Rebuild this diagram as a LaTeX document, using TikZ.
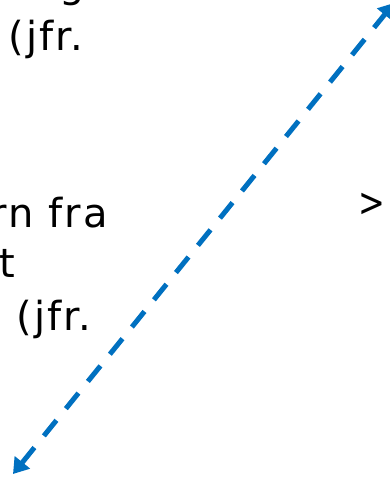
\documentclass[tikz,border=0pt]{standalone}
\usepackage{fontspec}
\setmainfont[LetterSpace=5]{DejaVu Sans}
\usetikzlibrary{arrows.meta}
\definecolor{linkblue}{HTML}{0070C0}

\begin{document}
\begin{tikzpicture}[x=1pt, y=-1pt, >={Triangle[length=15pt, width=19pt]},
  frag/.style={anchor=base west, inner sep=0pt, font=\fontsize{40}{48}\selectfont, text=black}]

% Frame (slide cut-out)
\useasboundingbox (0,0) rectangle (389,478);

% Text fragments, left column
\node[frag] (gtail) at (59,-2.3) {g};
\node[frag] (jfrA) at (8.5,51) {(jfr.};
\node[frag] (fra) at (-9.5,227) {rn fra};
\node[frag] (tee) at (-1,277) {t};
\node[frag] (jfrB) at (16.5,330) {(jfr.};

% Text fragment, right column
\node[frag] (gt) at (358.6,216.6) {\scalebox{0.8}[1]{>}};

% Dashed double arrow
\coordinate (lo) at (13,474);
\coordinate (hi) at (394,3);
\draw[linkblue, line width=5pt, dash pattern=on 20pt off 15pt, <->] (lo) -- (hi);

\end{tikzpicture}
\end{document}
